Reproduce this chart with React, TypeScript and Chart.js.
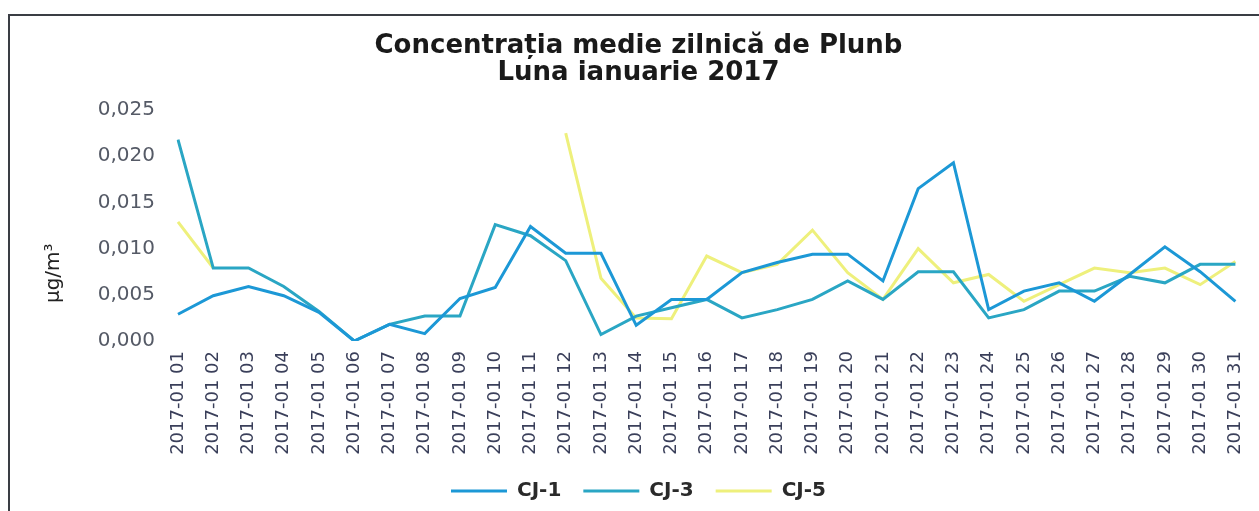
import React, { useEffect, useRef } from "react";
import { Chart, registerables } from "chart.js";

Chart.register(...registerables);

const titleLines = ["Concentrația medie zilnică de Plunb", "Luna ianuarie 2017"];
const yAxisTitle = "μg/m³";

const dayLabels = [
  "2017-01 01", "2017-01 02", "2017-01 03", "2017-01 04", "2017-01 05",
  "2017-01 06", "2017-01 07", "2017-01 08", "2017-01 09", "2017-01 10",
  "2017-01 11", "2017-01 12", "2017-01 13", "2017-01 14", "2017-01 15",
  "2017-01 16", "2017-01 17", "2017-01 18", "2017-01 19", "2017-01 20",
  "2017-01 21", "2017-01 22", "2017-01 23", "2017-01 24", "2017-01 25",
  "2017-01 26", "2017-01 27", "2017-01 28", "2017-01 29", "2017-01 30",
  "2017-01 31",
];

const cj1 = [
  0.0029, 0.0049, 0.0059, 0.0049, 0.0031, 0.0, 0.0018, 0.0008, 0.0046, 0.0058,
  0.0124, 0.0095, 0.0095, 0.0017, 0.0045, 0.0045, 0.0074, 0.0085, 0.0094, 0.0094,
  0.0065, 0.0165, 0.0193, 0.0034, 0.0054, 0.0063, 0.0043, 0.0072, 0.0102, 0.0075,
  0.0043,
];

const cj3 = [
  0.0218, 0.0079, 0.0079, 0.0059, 0.0032, 0.0, 0.0018, 0.0027, 0.0027, 0.0126,
  0.0114, 0.0087, 0.0007, 0.0027, 0.0036, 0.0045, 0.0025, 0.0034, 0.0045, 0.0065,
  0.0045, 0.0075, 0.0075, 0.0025, 0.0034, 0.0054, 0.0054, 0.007, 0.0063, 0.0083,
  0.0083,
];

const cj5 = [
  0.0129, 0.0079, null, null, null, null, null, null, null, null,
  null, 0.0225, 0.0068, 0.0025, 0.0024, 0.0092, 0.0074, 0.0083, 0.012, 0.0074,
  0.0045, 0.01, 0.0063, 0.0072, 0.0043, 0.0061, 0.0079, 0.0074, 0.0079, 0.0061,
  0.0086,
];

const seriesNames = ["CJ-1", "CJ-3", "CJ-5"];
const seriesColors = ["#1c98d6", "#2aa6c4", "#eef07c"];
const yMin = 0;
const yMax = 0.025;
const yStep = 0.005;

export default function App() {
  const ref = useRef<HTMLCanvasElement>(null);

  useEffect(() => {
    document.body.style.margin = "0";
    const values = [cj1, cj3, cj5];
    const chart = new Chart(ref.current as HTMLCanvasElement, {
      type: "line",
      data: {
        labels: dayLabels,
        datasets: seriesNames.map((name, i) => ({
          label: name,
          data: values[i],
          borderColor: seriesColors[i],
          backgroundColor: seriesColors[i],
          borderWidth: 3,
          pointRadius: 0,
          tension: 0,
          spanGaps: false,
        })),
      },
      options: {
        animation: false,
        responsive: false,
        layout: { padding: { left: 30, right: 12, top: 20, bottom: 0 } },
        plugins: {
          tooltip: { enabled: false },
          title: {
            display: true,
            text: titleLines,
            color: "#1a1a1a",
            font: { family: "DejaVu Sans", size: 26, weight: "bold", lineHeight: 1.04 },
            padding: { top: 13, bottom: 23 },
          },
          legend: {
            position: "bottom",
            labels: {
              boxWidth: 56,
              boxHeight: 3,
              padding: 22,
              color: "#2a2a2a",
              font: { family: "DejaVu Sans", size: 20, weight: "bold" },
              generateLabels: (c: any) =>
                Chart.defaults.plugins.legend.labels
                  .generateLabels(c)
                  .map((it: any) => ({ ...it, lineWidth: 0 })),
            },
          },
        },
        scales: {
          x: {
            grid: { display: false },
            border: { display: false },
            ticks: {
              autoSkip: false,
              minRotation: 90,
              maxRotation: 90,
              padding: 2,
              color: "#3a3f5a",
              font: { family: "DejaVu Sans", size: 18 },
            },
            afterFit: (s: any) => {
              s.height = 118;
            },
          },
          y: {
            min: yMin,
            max: yMax,
            grid: { display: false },
            border: { display: false },
            ticks: {
              stepSize: yStep,
              padding: 15,
              color: "#555a66",
              font: { family: "DejaVu Sans", size: 20 },
              callback: (v: any) => Number(v).toFixed(3).replace(".", ","),
            },
            title: {
              display: true,
              text: yAxisTitle + "               ",
              color: "#222",
              font: { family: "DejaVu Sans", size: 20 },
              padding: { top: 12, bottom: 0 },
            },
            afterFit: (s: any) => {
              s.width = 148;
            },
          },
        },
      },
    } as any);
    return () => chart.destroy();
  }, []);

  return (
    <div style={{ position: "relative", width: 1259, height: 511, background: "#fff" }}>
      <canvas ref={ref} width={1259} height={511} style={{ display: "block" }} />
      <div
        style={{
          position: "absolute",
          left: 8,
          top: 14,
          right: 0,
          bottom: 0,
          borderTop: "2px solid #3a3d44",
          borderLeft: "2px solid #3a3d44",
          pointerEvents: "none",
        }}
      />
    </div>
  );
}
